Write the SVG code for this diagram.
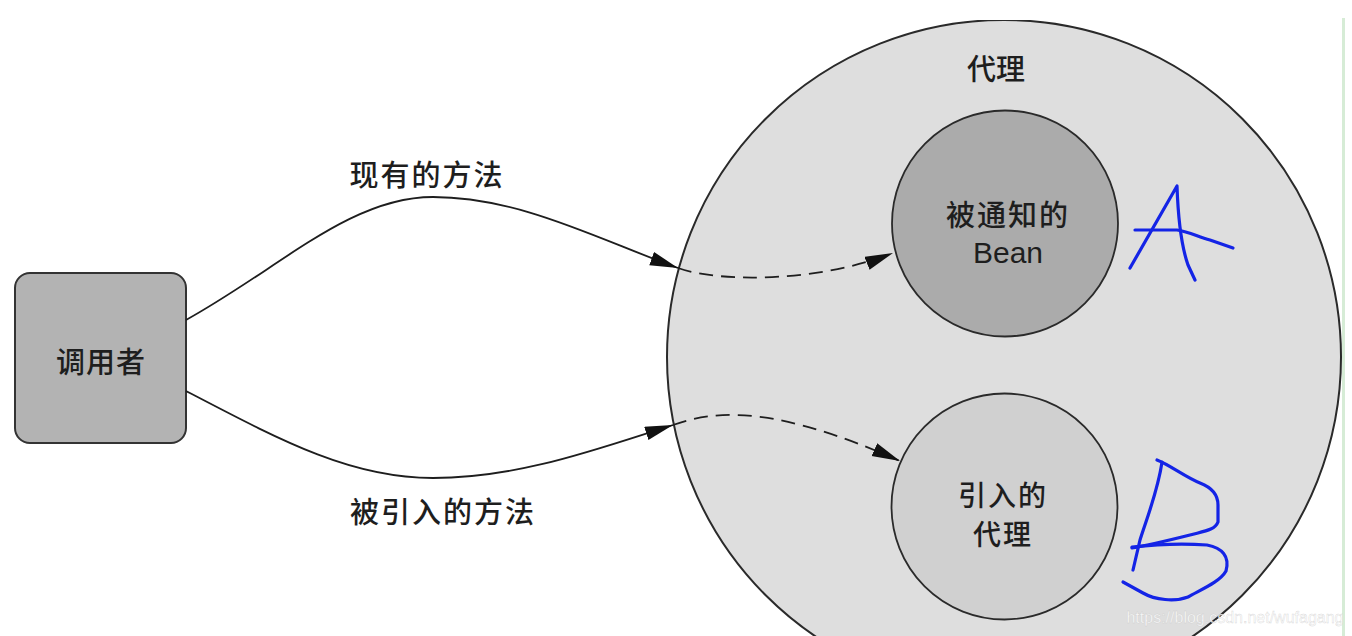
<svg xmlns="http://www.w3.org/2000/svg" width="1352" height="636" viewBox="0 0 1352 636">
<style>
.cjk{font-family:"Noto Sans CJK SC","Liberation Sans",sans-serif;font-size:29px;fill:#1e1e1e;text-anchor:middle;dominant-baseline:central;font-weight:500}
.lat{font-family:"Liberation Sans","Noto Sans",sans-serif;font-size:30px;fill:#1e1e1e;text-anchor:middle;dominant-baseline:central}
.edge{fill:none;stroke:#1e1e1e;stroke-width:1.8}
.dash{stroke-dasharray:14 8}
.ink{fill:none;stroke:#1424e6;stroke-width:3.2;stroke-linecap:round;stroke-linejoin:round}
</style>
<defs>
<marker id="arr" markerUnits="userSpaceOnUse" markerWidth="30" markerHeight="16" refX="28" refY="7" orient="auto">
<path d="M0,0 L28,7 L0,14 z" fill="#111"/>
</marker>
<clipPath id="clipTop"><rect x="0" y="20" width="1352" height="616"/></clipPath>
</defs>
<rect width="1352" height="636" fill="#fff"/>
<line x1="1343.5" y1="18" x2="1343.5" y2="636" stroke="#d6ecd6" stroke-width="3"/>

<g id="proxy">
<circle cx="1004" cy="357" r="337" fill="#dedede" stroke="#2a2a2a" stroke-width="2" clip-path="url(#clipTop)"/>
<text class="cjk" x="996" y="67">代理</text>
</g>

<g id="caller">
<rect x="15" y="273" width="171" height="170" rx="15" fill="#b3b3b3" stroke="#333" stroke-width="2"/>
<text class="cjk" x="101" y="360" style="letter-spacing:1px">调用者</text>
</g>

<g id="bean">
<circle cx="1005" cy="223.5" r="113" fill="#ababab" stroke="#2a2a2a" stroke-width="1.8"/>
<text class="cjk" x="1008" y="213" style="letter-spacing:2px">被通知的</text>
<text class="lat" x="1008" y="252">Bean</text>
</g>

<g id="introduced">
<circle cx="1004.5" cy="506.5" r="113" fill="#d0d0d0" stroke="#2a2a2a" stroke-width="1.8"/>
<text class="cjk" x="1003" y="494" style="letter-spacing:2px;font-size:28px">引入的</text>
<text class="cjk" x="1003" y="533" style="letter-spacing:2px;font-size:28px">代理</text>
</g>

<g id="connectors">
<path class="edge" d="M186,320 C280,268 350,197 433,197 C520,197 600,240 678,268" marker-end="url(#arr)"/>
<path class="edge dash" d="M678,268 C720,283 820,282 893,253" marker-end="url(#arr)"/>
<path class="edge" d="M186,391 C280,440 350,478 433,478 C520,478 600,448 673,425" marker-end="url(#arr)"/>
<path class="edge dash" d="M673,425 C720,408 780,408 900,461" marker-end="url(#arr)"/>
<text class="cjk" x="427" y="173" style="letter-spacing:2px">现有的方法</text>
<text class="cjk" x="443" y="510" style="letter-spacing:2px">被引入的方法</text>
</g>

<g id="handwriting">
<path class="ink" d="M1130,268 L1177,186 C1178,215 1181,245 1188,265 L1195,280"/>
<path class="ink" d="M1135,230 L1177,230 C1190,232 1198,237 1210,240 L1233,248"/>
<path class="ink" d="M1157,460 C1170,465 1185,477 1200,483 C1213,488 1218,495 1218,505 L1218,522 C1215,530 1205,531 1190,535 C1170,540 1150,545 1132,548"/>
<path class="ink" d="M1162,462 C1158,490 1148,515 1140,540 L1133,570"/>
<path class="ink" d="M1132,547 C1150,545 1180,543 1207,545 C1222,548 1230,556 1226,571 C1220,582 1200,590 1188,597 C1175,602 1155,600 1143,593 L1123,582"/>
</g>

<text x="1235" y="617" font-family="Liberation Sans, Arial, sans-serif" font-size="16" text-anchor="middle" dominant-baseline="central" fill="#ffffff" fill-opacity="0.85" stroke="#b8b8b8" stroke-width="0.4" stroke-opacity="0.6">https://blog.csdn.net/wufagang</text>
</svg>
